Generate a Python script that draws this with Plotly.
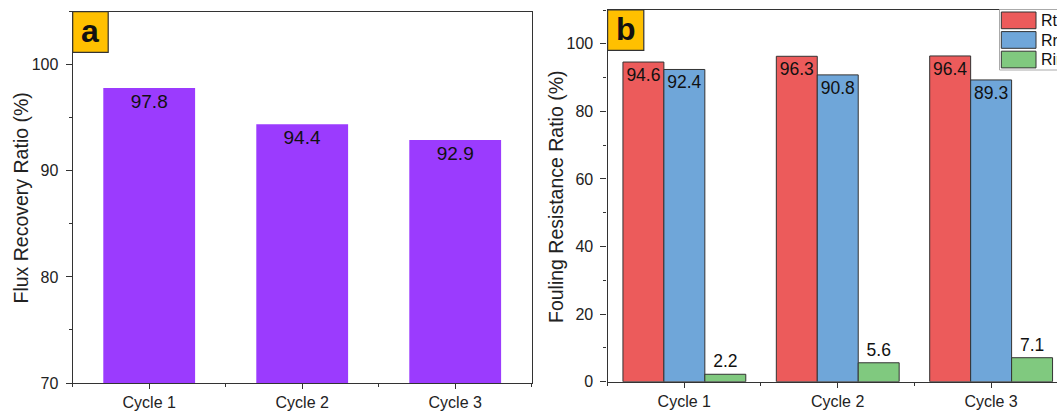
import plotly.graph_objects as go

categories = ["Cycle 1", "Cycle 2", "Cycle 3"]
frr = [97.8, 94.4, 92.9]
rt = [94.6, 96.3, 96.4]
rr = [92.4, 90.8, 89.3]
rir = [2.2, 5.6, 7.1]
series_names = ["Rt", "Rr", "Rir"]
series_colors = ["#EC5B5B", "#6FA6D9", "#80C97F"]
y_titles = ["Flux Recovery Ratio (%)", "Fouling Resistance Ratio (%)"]

W, H = 1057, 411
xpos = list(range(len(categories)))
FONT = "Liberation Sans, Arial, sans-serif"
AX = "#333333"

fig = go.Figure()
fig.add_trace(go.Bar(
    x=xpos, y=frr, width=0.6, xaxis="x", yaxis="y",
    marker=dict(color="#9B3BFE", line=dict(width=0)),
    text=[f"{v:.1f}" for v in frr], textposition="inside", insidetextanchor="end",
    constraintext="none", textfont=dict(size=19, color="#111111", family=FONT),
    showlegend=False,
))

offsets = [-0.4, -0.133, 0.134]
for name, vals, col, off in zip(series_names, [rt, rr, rir], series_colors, offsets):
    inside = name != "Rir"
    fig.add_trace(go.Bar(
        x=xpos, y=vals, width=0.267, offset=off, name=name, xaxis="x2", yaxis="y2",
        marker=dict(color=col, line=dict(width=1, color="#333333")),
        text=[f"{v:.1f}" for v in vals],
        textposition="inside" if inside else "outside",
        insidetextanchor="end", constraintext="none", cliponaxis=False,
        textfont=dict(size=17.5, color="#111111", family=FONT),
        showlegend=False,
    ))

def px_x(p):
    return p / W

def px_y(p):
    return 1 - p / H

common_x = dict(
    showline=True, linecolor=AX, linewidth=1.3, mirror=True, automargin=False,
    ticks="outside", ticklen=5, tickwidth=1.3, tickcolor=AX,
    tickvals=xpos, ticktext=categories, showgrid=False, zeroline=False,
    tickfont=dict(size=16, color="#222222", family=FONT),
    minor=dict(tick0=0.5, dtick=1, ticks="outside", ticklen=3, tickwidth=1.3, tickcolor=AX),
)
common_y = dict(
    showline=True, linecolor=AX, linewidth=1.3, automargin=False,
    ticks="outside", ticklen=6, tickwidth=1.3, tickcolor=AX,
    showgrid=False, zeroline=False, ticklabelstandoff=4,
    tickfont=dict(size=16, color="#222222", family=FONT),
)

fig.update_layout(
    width=W, height=H, margin=dict(l=0, r=0, t=0, b=0),
    paper_bgcolor="white", plot_bgcolor="white",
    barmode="overlay", showlegend=False,
    font=dict(family=FONT, color="#222222"),
    xaxis=dict(domain=[px_x(72.7), px_x(531.7)], range=[-0.5, 2.5], anchor="y", **common_x),
    yaxis=dict(domain=[px_y(383), px_y(11.7)], range=[70, 105], anchor="x", mirror=True,
               tick0=70, dtick=10,
               minor=dict(tick0=75, dtick=10, ticks="outside", ticklen=3, tickwidth=1.3, tickcolor=AX),
               **common_y),
    xaxis2=dict(domain=[px_x(607.6), 1.0], range=[-0.5, 2.43], anchor="y2", **common_x),
    yaxis2=dict(domain=[px_y(381.7), px_y(10)], range=[0, 110], anchor="x2", mirror=False,
                tick0=0, dtick=20,
                minor=dict(tick0=10, dtick=20, ticks="outside", ticklen=3, tickwidth=1.3, tickcolor=AX),
                **common_y),
)

shapes = []
annotations = []

# y-axis titles
for text, cx, cy in zip(y_titles, [20.5, 555.5], [198, 196.5]):
    annotations.append(dict(xref="paper", yref="paper", x=px_x(cx), y=px_y(cy),
                            text=text, textangle=-90, showarrow=False,
                            xanchor="center", yanchor="middle",
                            font=dict(size=19.5, color="#222222", family=FONT)))

# panel label boxes
for (x0, x1, y0, y1, lab) in [(72.7, 108.2, 11.7, 52.3, "a"), (607.6, 643.8, 10, 50.3, "b")]:
    shapes.append(dict(type="rect", xref="paper", yref="paper",
                       x0=px_x(x0), x1=px_x(x1), y0=px_y(y1), y1=px_y(y0),
                       fillcolor="#FFC000", line=dict(color="#333333", width=1.2), layer="above"))
    annotations.append(dict(xref="paper", yref="paper", x=px_x((x0 + x1) / 2), y=px_y(y1 - 1),
                            text=f"<b>{lab}</b>", showarrow=False, xanchor="center", yanchor="bottom",
                            font=dict(size=32, color="#111111", family=FONT)))

# legend (drawn manually)
shapes.append(dict(type="rect", xref="paper", yref="paper",
                   x0=px_x(999.5), x1=px_x(1070), y0=px_y(70), y1=px_y(9.5),
                   fillcolor="white", line=dict(color="#AAAAAA", width=1), layer="above"))
for i, (name, col) in enumerate(zip(series_names, series_colors)):
    top = 12 + i * 19.6
    shapes.append(dict(type="rect", xref="paper", yref="paper",
                       x0=px_x(1001.3), x1=px_x(1036), y0=px_y(top + 16.7), y1=px_y(top),
                       fillcolor=col, line=dict(color="#333333", width=1), layer="above"))
    annotations.append(dict(xref="paper", yref="paper", x=px_x(1038.5), y=px_y(top + 8.4),
                            text=name, showarrow=False, xanchor="left", yanchor="middle",
                            font=dict(size=16, color="#111111", family=FONT)))

fig.update_layout(shapes=shapes, annotations=annotations)
fig.write_html("out.html", config={"displayModeBar": False},
               post_script="document.body.style.margin='0';document.body.style.overflow='hidden';")
